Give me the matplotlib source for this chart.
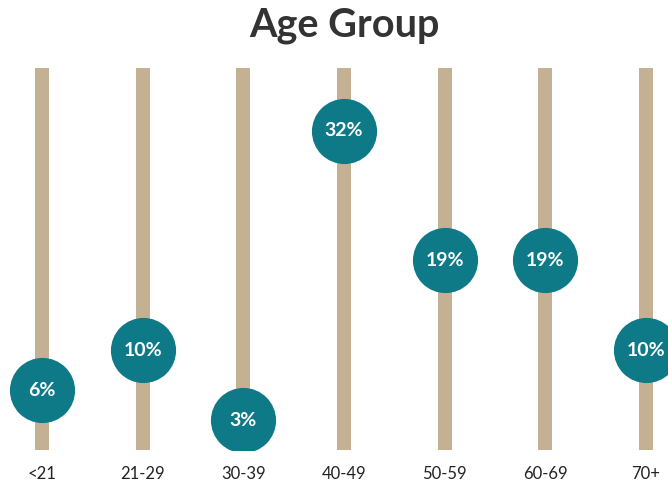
import matplotlib
matplotlib.use("Agg")
import matplotlib.pyplot as plt

age_groups = ["<21", "21-29", "30-39", "40-49", "50-59", "60-69", "70+"]
shares = [6, 10, 3, 32, 19, 19, 10]
track_top = 38.3

plt.rcParams["font.family"] = ["Lato", "DejaVu Sans"]

fig = plt.figure(figsize=(6.68, 4.87), dpi=100)
ax = fig.add_axes([0, 37 / 487, 1, 399 / 487])

x = list(range(len(age_groups)))
ax.bar(x, [track_top] * len(x), width=0.14, color="#C4B093", zorder=1)
ax.scatter(x, shares, s=2200, color="#0E7A88", zorder=2, linewidths=0)
for xi, v in zip(x, shares):
    ax.text(xi, v, f"{v}%", ha="center", va="center", color="white",
            fontsize=14, fontweight="bold", zorder=3)

ax.set_xlim(-0.417, 6.218)
ax.set_ylim(0, 40)
ax.axis("off")

for xi, lab in zip(x, age_groups):
    ax.annotate(lab, (xi, 0), xytext=(0, -21), textcoords="offset points",
                ha="center", va="baseline", fontsize=12, color="#222222",
                annotation_clip=False)

fig.text(344 / 668, 1 - 37 / 487, "Age Group", ha="center", va="baseline",
         fontsize=28.5, fontweight="bold", color="#333333")

fig.savefig("out.png", dpi=100)
